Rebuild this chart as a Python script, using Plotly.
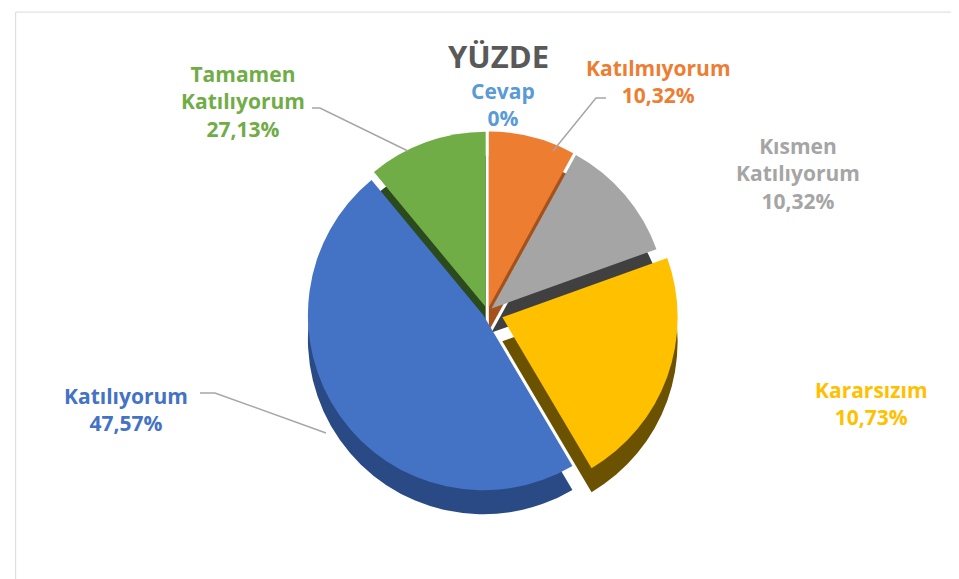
import plotly.graph_objects as go

W, H = 959, 579

labels = ["Cevap", "Katılmıyorum", "Kısmen Katılıyorum", "Kararsızım", "Katılıyorum", "Tamamen Katılıyorum"]
label_lines = ["Cevap", "Katılmıyorum", "Kısmen<br>Katılıyorum", "Kararsızım", "Katılıyorum", "Tamamen<br>Katılıyorum"]
# slice sizes as drawn in the picture
values = [0.0, 8.0, 11.5, 22.0, 47.5, 11.0]
# percentages as printed on the labels
pct_text = ["0%", "10,32%", "10,32%", "10,73%", "47,57%", "27,13%"]
colors = ["#5B9BD5", "#ED7D31", "#A5A5A5", "#FFC000", "#4472C4", "#70AD47"]
side_colors = ["#3A6E9E", "#A4511B", "#404040", "#6B5200", "#2A4A85", "#2B4A1E"]
pulls = [0.03, 0.03, 0.03, 0.09, 0.03, 0.03]

# label anchor positions (pixels, centre of text block)
label_pos = [(495, 96), (650, 74), (790, 165), (863, 395), (118, 401), (235, 93)]
# leader lines (pixels)
leaders = [
    None,
    [(598, 90), (588, 90), (545, 143)],
    None,
    None,
    [(192, 385), (207, 385), (318, 425)],
    [(304, 100), (312, 100), (400, 143)],
]

def px(x, y):
    return x / W, 1 - y / H

dom_x = [0.2, 0.8]
dom_y = [0.145, 0.805]
depth = 24 / H

fig = go.Figure()
# side wall (depth) of the pie
fig.add_trace(go.Pie(
    labels=labels, values=values, sort=False, direction="clockwise", rotation=0,
    pull=pulls, textinfo="none", hoverinfo="skip", showlegend=False,
    marker=dict(colors=side_colors, line=dict(color="rgba(0,0,0,0)", width=0)),
    domain=dict(x=dom_x, y=[dom_y[0] - depth, dom_y[1] - depth]),
))
# top face
fig.add_trace(go.Pie(
    labels=labels, values=values, sort=False, direction="clockwise", rotation=0,
    pull=pulls, textinfo="none", showlegend=False,
    marker=dict(colors=colors, line=dict(color="rgba(0,0,0,0)", width=0)),
    domain=dict(x=dom_x, y=dom_y),
    hoverinfo="label+percent",
))

annotations = []
for name, pct, col, (x, y) in zip(label_lines, pct_text, colors, label_pos):
    ax, ay = px(x, y)
    annotations.append(dict(
        text=f"<b>{name}<br>{pct}</b>", x=ax, y=ay, xref="paper", yref="paper",
        xanchor="center", yanchor="middle", showarrow=False, align="center",
        font=dict(family="Open Sans", size=21, color=col),
    ))
annotations.append(dict(
    text="<b>YÜZDE</b>", x=px(490, 48)[0], y=px(490, 48)[1], xref="paper", yref="paper",
    xanchor="center", yanchor="middle", showarrow=False,
    font=dict(family="Open Sans", size=31, color="#595959"),
))

shapes = [dict(type="rect", xref="paper", yref="paper", x0=0.008, x1=0.996, y0=0.003, y1=0.993,
               line=dict(color="#D9D9D9", width=1))]
for pts in leaders:
    if pts is None:
        continue
    path = "M " + " L ".join(f"{px(x, y)[0]:.4f},{px(x, y)[1]:.4f}" for x, y in pts)
    shapes.append(dict(type="path", xref="paper", yref="paper", path=path,
                       line=dict(color="#A6A6A6", width=1.5)))

fig.update_layout(
    width=W, height=H,
    margin=dict(l=0, r=0, t=0, b=0),
    paper_bgcolor="white",
    annotations=annotations,
    shapes=shapes,
)

fig.write_html("out.html")
